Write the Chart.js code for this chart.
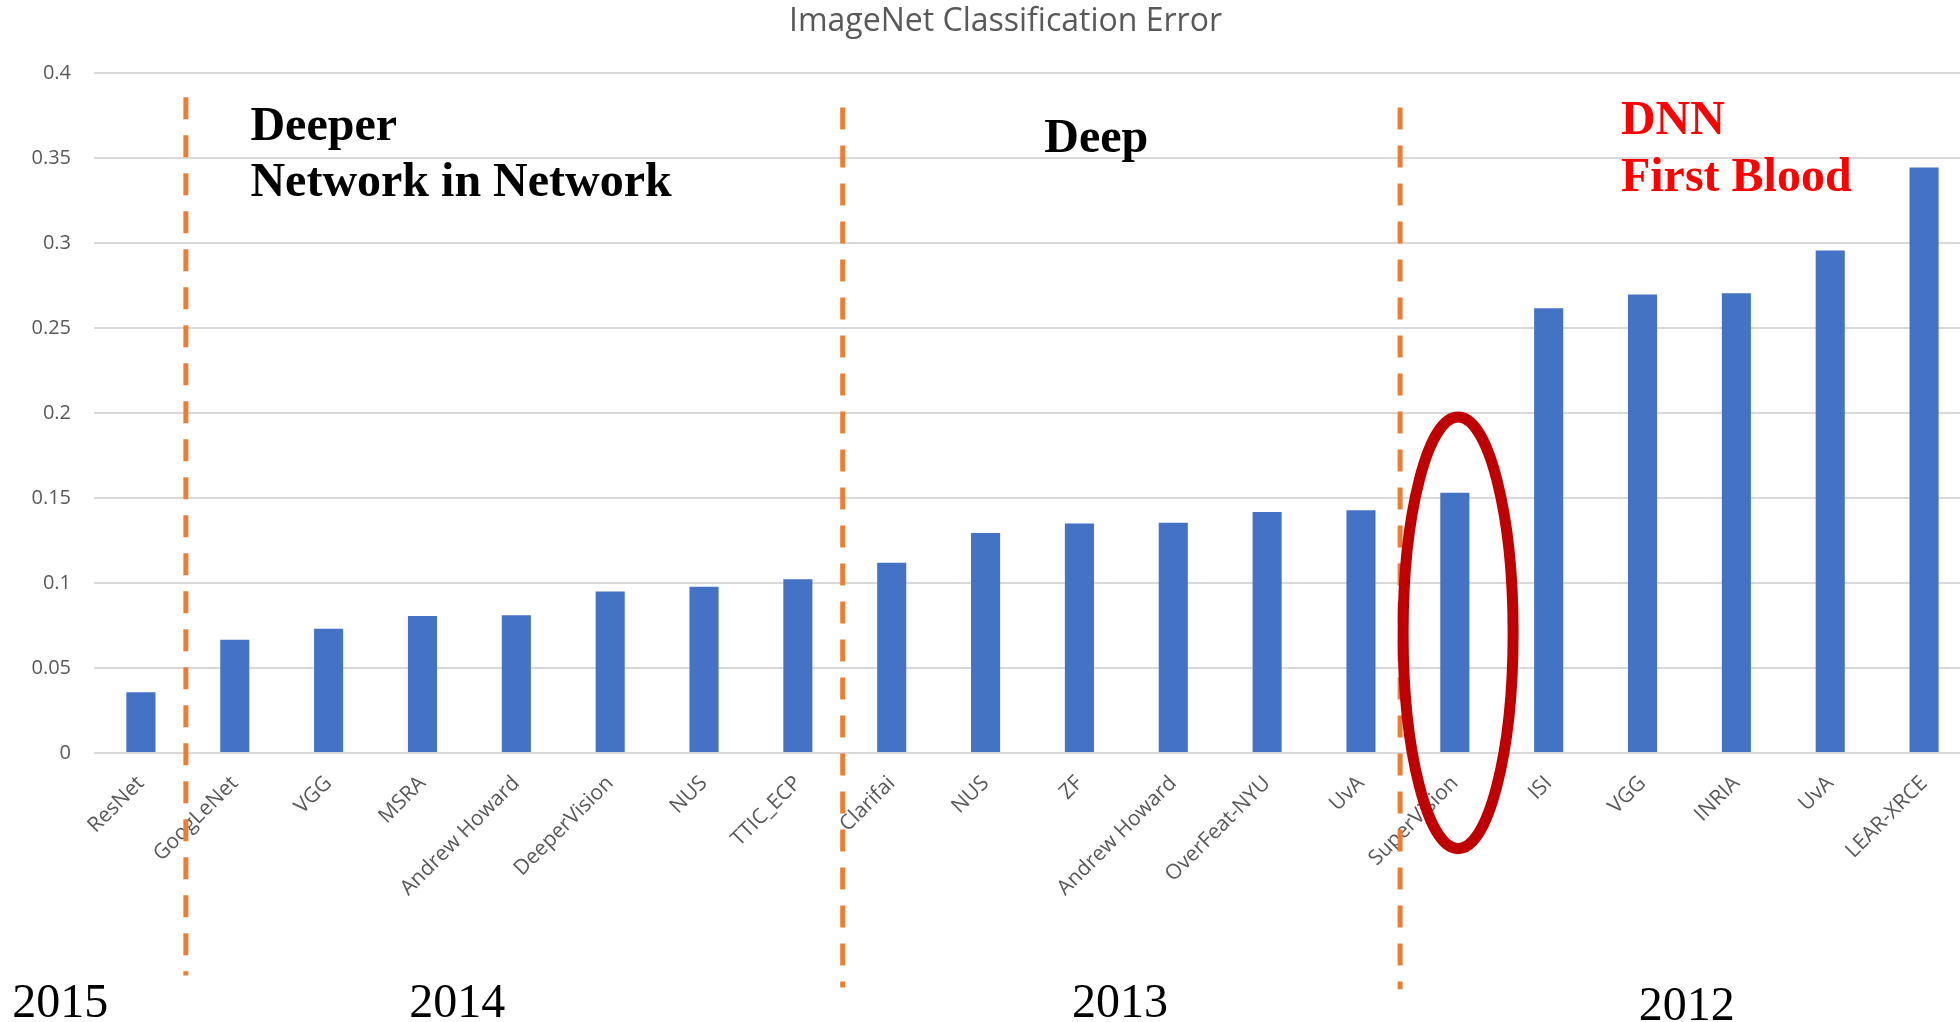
<!DOCTYPE html>
<html>
<head>
<meta charset="utf-8">
<script src="https://cdn.jsdelivr.net/npm/chart.js@4"></script>
<style>
  html, body { margin: 0; padding: 0; background: #fff; overflow: hidden; }
  canvas { display: block; }
</style>
</head>
<body>
<canvas id="myChart" width="2011" height="1022"></canvas>
<script>
var teams = ['ResNet', 'GoogLeNet', 'VGG', 'MSRA', 'Andrew Howard', 'DeeperVision', 'NUS', 'TTIC_ECP',
  'Clarifai', 'NUS', 'ZF', 'Andrew Howard', 'OverFeat-NYU', 'UvA',
  'SuperVision', 'ISI', 'VGG', 'INRIA', 'UvA', 'LEAR-XRCE'];
var errors = [0.0357, 0.0666, 0.0732, 0.0806, 0.0811, 0.0951, 0.0979, 0.1022,
  0.1120, 0.1295, 0.1351, 0.1355, 0.1418, 0.1429,
  0.1532, 0.2617, 0.2698, 0.2706, 0.2958, 0.3446];
var yTicks = ['0', '0.05', '0.1', '0.15', '0.2', '0.25', '0.3', '0.35', '0.4'];
var years = ['2015', '2014', '2013', '2012'];
var eras = [['Deeper', 'Network in Network'], ['Deep'], ['DNN', 'First Blood']];

// annotation placement, in category index / axis value units
var dividers = [{at: 0.479, from: 0.386, to: -0.131}, {at: 7.478, from: 0.380, to: -0.138}, {at: 13.417, from: 0.380, to: -0.139}];
var eraSpots = [{x: 1.167, y: [0.361, 0.328], color: '#000'}, {x: 9.625, y: [0.354], color: '#000'}, {x: 15.77, y: [0.3645, 0.331], color: '#ff0000'}];
var yearSpots = [{x: -1.37, y: -0.1555}, {x: 2.86, y: -0.1555}, {x: 9.92, y: -0.1555}, {x: 15.96, y: -0.157}];
var ring = {x: 14.035, y: 0.0707, rx: 0.586, ry: 0.127};

var overlay = {
  id: 'overlay',
  afterDatasetsDraw: function(chart) {
    var ctx = chart.ctx;
    var xs = chart.scales.x, ys = chart.scales.y;
    ctx.save();
    ctx.strokeStyle = '#ED7D31';
    ctx.lineWidth = 5;
    ctx.setLineDash([22, 16]);
    dividers.forEach(function(d) {
      var px = xs.getPixelForValue(d.at);
      ctx.beginPath();
      ctx.moveTo(px, ys.getPixelForValue(d.from));
      ctx.lineTo(px, ys.getPixelForValue(d.to));
      ctx.stroke();
    });
    ctx.setLineDash([]);

    var cx = xs.getPixelForValue(ring.x), cy = ys.getPixelForValue(ring.y);
    var rx = xs.getPixelForValue(ring.x + ring.rx) - cx;
    var ry = cy - ys.getPixelForValue(ring.y + ring.ry);
    ctx.strokeStyle = '#C00000';
    ctx.lineWidth = 11;
    ctx.beginPath();
    ctx.ellipse(cx, cy, rx, ry, 0, 0, Math.PI * 2);
    ctx.stroke();
    ctx.restore();
  },
  afterDraw: function(chart) {
    var ctx = chart.ctx;
    var xs = chart.scales.x, ys = chart.scales.y;
    ctx.save();
    ctx.textAlign = 'left';
    ctx.textBaseline = 'alphabetic';
    ctx.font = 'bold 48px "Liberation Serif", "Times New Roman", serif';
    eras.forEach(function(lines, i) {
      var s = eraSpots[i];
      ctx.fillStyle = s.color;
      lines.forEach(function(t, j) {
        ctx.fillText(t, xs.getPixelForValue(s.x), ys.getPixelForValue(s.y[j]));
      });
    });
    ctx.font = '48px "Liberation Serif", "Times New Roman", serif';
    ctx.fillStyle = '#000';
    years.forEach(function(t, i) {
      ctx.fillText(t, xs.getPixelForValue(yearSpots[i].x), ys.getPixelForValue(yearSpots[i].y));
    });
    ctx.restore();
  }
};

var chart = new Chart(document.getElementById('myChart'), {
  type: 'bar',
  data: {
    labels: teams,
    datasets: [{
      label: 'Error',
      data: errors,
      backgroundColor: '#4472C4',
      barPercentage: 0.31,
      categoryPercentage: 1
    }]
  },
  options: {
    responsive: false,
    animation: false,
    devicePixelRatio: 1,
    layout: { padding: 0 },
    plugins: {
      legend: { display: false },
      tooltip: { enabled: false },
      title: {
        display: true,
        text: 'ImageNet Classification Error',
        color: '#595959',
        font: { family: '"Open Sans", sans-serif', size: 32, weight: 'normal' },
        padding: { top: 3, bottom: 32 }
      }
    },
    scales: {
      x: {
        grid: { display: false },
        border: { display: false },
        ticks: {
          color: '#595959',
          font: { family: '"Open Sans", sans-serif', size: 21 },
          minRotation: 45,
          maxRotation: 45,
          autoSkip: false,
          padding: 10
        },
        afterFit: function(scale) { scale.height = 269; }
      },
      y: {
        min: 0,
        max: 0.4,
        border: { display: false },
        grid: { color: '#d9d9d9', lineWidth: 2, drawTicks: false },
        ticks: {
          stepSize: 0.05,
          color: '#595959',
          font: { family: '"Open Sans", sans-serif', size: 20 },
          padding: 23,
          callback: function(v, i) { return yTicks[i]; }
        },
        afterFit: function(scale) { scale.width = 94; }
      },
      // empty strip on the right: the plot runs past the window edge and the title centres on the whole thing
      spacer: {
        type: 'linear',
        position: 'right',
        grid: { display: false },
        border: { display: false },
        ticks: { display: false },
        afterFit: function(scale) { scale.width = 40; }
      }
    }
  },
  plugins: [overlay]
});
</script>
</body>
</html>
